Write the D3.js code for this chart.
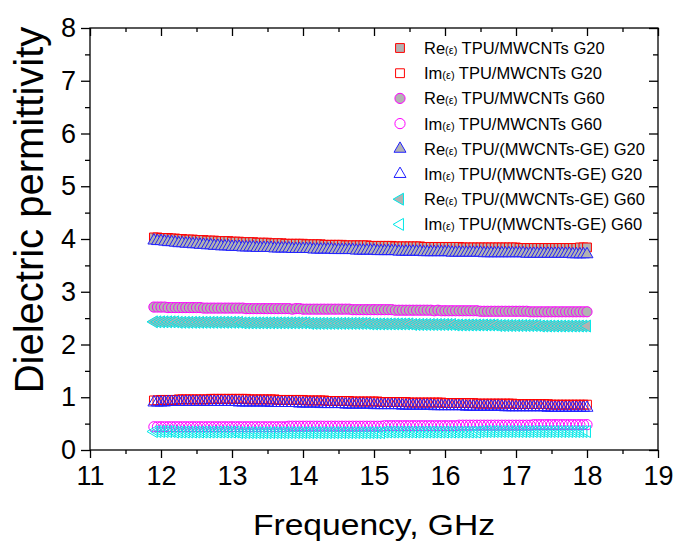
<!DOCTYPE html>
<html>
<head>
<meta charset="utf-8">
<script src="https://cdn.jsdelivr.net/npm/d3@7"></script>
<style>
  body { margin: 0; background: #fff; }
  text { font-family: "Liberation Sans", Arial, sans-serif; fill: #000; }
</style>
</head>
<body>
<div id="chart"></div>
<script>
// frequency sweep (GHz)
const freq = [
  11.90,11.95,12.00,12.05,12.10,12.15,12.20,12.25,12.30,12.35,
  12.40,12.45,12.50,12.55,12.60,12.65,12.70,12.75,12.80,12.85,
  12.90,12.95,13.00,13.05,13.10,13.15,13.20,13.25,13.30,13.35,
  13.40,13.45,13.50,13.55,13.60,13.65,13.70,13.75,13.80,13.85,
  13.90,13.95,14.00,14.05,14.10,14.15,14.20,14.25,14.30,14.35,
  14.40,14.45,14.50,14.55,14.60,14.65,14.70,14.75,14.80,14.85,
  14.90,14.95,15.00,15.05,15.10,15.15,15.20,15.25,15.30,15.35,
  15.40,15.45,15.50,15.55,15.60,15.65,15.70,15.75,15.80,15.85,
  15.90,15.95,16.00,16.05,16.10,16.15,16.20,16.25,16.30,16.35,
  16.40,16.45,16.50,16.55,16.60,16.65,16.70,16.75,16.80,16.85,
  16.90,16.95,17.00,17.05,17.10,17.15,17.20,17.25,17.30,17.35,
  17.40,17.45,17.50,17.55,17.60,17.65,17.70,17.75,17.80,17.85,
  17.90,17.95,18.00
];

// Re(e) TPU/MWCNTs G20
const reMwG20 = [
  4.03,4.03,4.02,4.02,4.02,4.01,4.01,4.00,4.00,3.99,
  3.99,3.99,3.98,3.98,3.98,3.97,3.97,3.97,3.96,3.96,
  3.96,3.96,3.95,3.95,3.95,3.94,3.94,3.94,3.94,3.93,
  3.93,3.93,3.93,3.92,3.92,3.92,3.92,3.91,3.91,3.91,
  3.91,3.91,3.91,3.90,3.90,3.90,3.90,3.90,3.89,3.89,
  3.89,3.89,3.89,3.89,3.88,3.88,3.88,3.88,3.88,3.88,
  3.88,3.87,3.87,3.87,3.87,3.87,3.87,3.87,3.86,3.86,
  3.86,3.86,3.86,3.86,3.86,3.86,3.85,3.85,3.85,3.85,
  3.85,3.85,3.85,3.85,3.85,3.85,3.85,3.84,3.84,3.84,
  3.84,3.84,3.84,3.84,3.84,3.84,3.84,3.84,3.84,3.84,
  3.84,3.84,3.84,3.83,3.83,3.83,3.83,3.83,3.83,3.83,
  3.83,3.83,3.83,3.83,3.83,3.83,3.83,3.83,3.83,3.83,
  3.84,3.84,3.84
];
// Im(e) TPU/MWCNTs G20
const imMwG20 = [
  0.94,0.94,0.95,0.95,0.95,0.95,0.95,0.96,0.96,0.96,
  0.96,0.96,0.96,0.96,0.96,0.96,0.97,0.97,0.97,0.97,
  0.97,0.97,0.97,0.97,0.97,0.97,0.97,0.96,0.96,0.96,
  0.96,0.96,0.96,0.96,0.96,0.95,0.95,0.95,0.95,0.95,
  0.95,0.95,0.95,0.94,0.94,0.94,0.94,0.94,0.94,0.93,
  0.93,0.93,0.93,0.93,0.93,0.93,0.92,0.92,0.92,0.92,
  0.92,0.92,0.92,0.92,0.91,0.91,0.91,0.91,0.91,0.91,
  0.91,0.91,0.90,0.90,0.90,0.90,0.90,0.90,0.90,0.90,
  0.90,0.90,0.89,0.89,0.89,0.89,0.89,0.89,0.89,0.89,
  0.89,0.88,0.88,0.88,0.88,0.88,0.88,0.88,0.88,0.88,
  0.88,0.88,0.87,0.87,0.87,0.87,0.87,0.87,0.87,0.87,
  0.87,0.87,0.86,0.86,0.86,0.86,0.86,0.86,0.86,0.86,
  0.86,0.86,0.86
];
// Re(e) TPU/MWCNTs G60
const reMwG60 = [
  2.71,2.71,2.71,2.71,2.70,2.70,2.70,2.70,2.70,2.70,
  2.70,2.70,2.70,2.70,2.69,2.69,2.69,2.69,2.69,2.69,
  2.69,2.69,2.69,2.69,2.69,2.69,2.68,2.68,2.68,2.68,
  2.68,2.68,2.68,2.68,2.68,2.68,2.68,2.68,2.68,2.67,
  2.68,2.68,2.67,2.67,2.67,2.67,2.67,2.67,2.67,2.67,
  2.67,2.67,2.67,2.67,2.67,2.67,2.66,2.66,2.66,2.66,
  2.66,2.66,2.66,2.66,2.66,2.66,2.66,2.66,2.65,2.65,
  2.65,2.65,2.65,2.65,2.65,2.65,2.65,2.65,2.65,2.64,
  2.65,2.64,2.64,2.64,2.64,2.64,2.64,2.64,2.64,2.64,
  2.64,2.64,2.63,2.63,2.63,2.63,2.63,2.63,2.63,2.63,
  2.63,2.63,2.63,2.63,2.63,2.63,2.62,2.62,2.62,2.62,
  2.62,2.62,2.62,2.62,2.62,2.62,2.62,2.62,2.62,2.62,
  2.62,2.62,2.62
];
// Im(e) TPU/MWCNTs G60
const imMwG60 = [
  0.44,0.44,0.44,0.44,0.44,0.44,0.44,0.44,0.44,0.44,
  0.44,0.44,0.44,0.44,0.44,0.44,0.44,0.44,0.44,0.44,
  0.44,0.44,0.44,0.44,0.44,0.44,0.44,0.44,0.44,0.44,
  0.44,0.44,0.44,0.44,0.44,0.44,0.44,0.44,0.45,0.45,
  0.45,0.45,0.45,0.45,0.45,0.45,0.45,0.45,0.45,0.45,
  0.45,0.45,0.45,0.45,0.45,0.45,0.45,0.45,0.45,0.45,
  0.45,0.45,0.45,0.45,0.45,0.46,0.46,0.46,0.46,0.46,
  0.46,0.46,0.46,0.46,0.46,0.46,0.46,0.46,0.46,0.46,
  0.46,0.46,0.46,0.46,0.46,0.46,0.47,0.47,0.47,0.47,
  0.47,0.47,0.47,0.47,0.47,0.47,0.47,0.47,0.47,0.47,
  0.47,0.47,0.47,0.47,0.47,0.47,0.47,0.48,0.48,0.48,
  0.48,0.48,0.48,0.48,0.48,0.48,0.48,0.48,0.48,0.48,
  0.48,0.48,0.48
];
// Re(e) TPU/(MWCNTs-GE) G20
const reGeG20 = [
  3.97,3.96,3.96,3.95,3.94,3.94,3.93,3.92,3.92,3.91,
  3.91,3.90,3.90,3.89,3.89,3.88,3.88,3.87,3.87,3.86,
  3.86,3.86,3.85,3.85,3.85,3.84,3.84,3.84,3.84,3.83,
  3.83,3.83,3.83,3.83,3.82,3.82,3.82,3.82,3.82,3.81,
  3.81,3.81,3.81,3.81,3.81,3.80,3.80,3.80,3.80,3.80,
  3.80,3.79,3.79,3.79,3.79,3.79,3.79,3.78,3.78,3.78,
  3.78,3.78,3.78,3.77,3.77,3.77,3.77,3.77,3.77,3.76,
  3.76,3.76,3.76,3.76,3.76,3.76,3.75,3.75,3.75,3.75,
  3.75,3.75,3.75,3.75,3.74,3.74,3.74,3.74,3.74,3.74,
  3.74,3.74,3.74,3.73,3.73,3.73,3.73,3.73,3.73,3.73,
  3.73,3.73,3.73,3.73,3.73,3.72,3.72,3.72,3.72,3.72,
  3.72,3.72,3.72,3.72,3.72,3.72,3.72,3.72,3.71,3.71,
  3.71,3.71,3.71
];
// Im(e) TPU/(MWCNTs-GE) G20
const imGeG20 = [
  0.90,0.90,0.90,0.90,0.91,0.91,0.91,0.91,0.91,0.91,
  0.91,0.91,0.91,0.91,0.91,0.91,0.91,0.91,0.91,0.91,
  0.91,0.91,0.91,0.91,0.90,0.90,0.90,0.90,0.90,0.90,
  0.90,0.90,0.90,0.89,0.89,0.89,0.89,0.89,0.89,0.89,
  0.89,0.88,0.88,0.88,0.88,0.88,0.88,0.87,0.87,0.87,
  0.87,0.87,0.87,0.87,0.86,0.86,0.86,0.86,0.86,0.86,
  0.86,0.86,0.85,0.85,0.85,0.85,0.85,0.85,0.85,0.85,
  0.84,0.84,0.84,0.84,0.84,0.84,0.84,0.84,0.84,0.83,
  0.83,0.83,0.83,0.83,0.83,0.83,0.83,0.83,0.82,0.82,
  0.82,0.82,0.82,0.82,0.82,0.82,0.82,0.82,0.82,0.81,
  0.81,0.81,0.81,0.81,0.81,0.81,0.81,0.81,0.81,0.81,
  0.81,0.80,0.80,0.80,0.80,0.80,0.80,0.80,0.80,0.80,
  0.80,0.80,0.80
];
// Re(e) TPU/(MWCNTs-GE) G60
const reGeG60 = [
  2.43,2.43,2.43,2.43,2.43,2.43,2.43,2.42,2.42,2.42,
  2.42,2.42,2.42,2.42,2.42,2.42,2.42,2.42,2.42,2.42,
  2.42,2.42,2.42,2.42,2.42,2.41,2.41,2.41,2.41,2.41,
  2.41,2.41,2.41,2.41,2.41,2.41,2.41,2.41,2.41,2.41,
  2.41,2.41,2.41,2.41,2.40,2.40,2.40,2.40,2.40,2.40,
  2.40,2.40,2.40,2.40,2.40,2.40,2.40,2.40,2.40,2.40,
  2.40,2.39,2.39,2.39,2.39,2.39,2.39,2.39,2.39,2.39,
  2.39,2.39,2.39,2.38,2.38,2.38,2.38,2.38,2.38,2.38,
  2.38,2.38,2.38,2.38,2.38,2.37,2.37,2.37,2.37,2.37,
  2.37,2.37,2.37,2.37,2.37,2.37,2.37,2.36,2.36,2.36,
  2.36,2.36,2.36,2.36,2.36,2.36,2.36,2.36,2.36,2.35,
  2.35,2.35,2.35,2.35,2.35,2.35,2.35,2.35,2.35,2.35,
  2.35,2.35,2.35
];
// Im(e) TPU/(MWCNTs-GE) G60
const imGeG60 = [
  0.35,0.35,0.35,0.35,0.35,0.35,0.34,0.34,0.34,0.34,
  0.34,0.34,0.34,0.34,0.34,0.34,0.34,0.34,0.34,0.34,
  0.34,0.34,0.34,0.34,0.33,0.33,0.33,0.33,0.33,0.33,
  0.33,0.33,0.33,0.33,0.33,0.33,0.33,0.33,0.33,0.33,
  0.33,0.33,0.33,0.33,0.33,0.33,0.33,0.33,0.33,0.33,
  0.33,0.33,0.33,0.33,0.33,0.33,0.33,0.33,0.33,0.33,
  0.33,0.33,0.33,0.33,0.33,0.34,0.34,0.34,0.34,0.34,
  0.34,0.34,0.34,0.34,0.34,0.34,0.34,0.34,0.34,0.34,
  0.34,0.34,0.34,0.34,0.34,0.34,0.34,0.34,0.34,0.34,
  0.34,0.34,0.35,0.35,0.35,0.35,0.35,0.35,0.35,0.35,
  0.35,0.35,0.35,0.35,0.35,0.35,0.35,0.35,0.35,0.35,
  0.35,0.35,0.35,0.35,0.35,0.35,0.35,0.35,0.35,0.35,
  0.35,0.35,0.35
];

const seriesValues = [reMwG20, imMwG20, reMwG60, imMwG60, reGeG20, imGeG20, reGeG60, imGeG60];
const labelPrefix = ['Re', 'Im', 'Re', 'Im', 'Re', 'Im', 'Re', 'Im'];
const labelNames = [
  ' TPU/MWCNTs G20', ' TPU/MWCNTs G20', ' TPU/MWCNTs G60', ' TPU/MWCNTs G60',
  ' TPU/(MWCNTs-GE) G20', ' TPU/(MWCNTs-GE) G20', ' TPU/(MWCNTs-GE) G60', ' TPU/(MWCNTs-GE) G60'
];
const xTicks = [11, 12, 13, 14, 15, 16, 17, 18, 19];
const yTicks = [0, 1, 2, 3, 4, 5, 6, 7, 8];

// marker styles per series
const shapes = ['square', 'square', 'circle', 'circle', 'up', 'up', 'left', 'left'];
const edge = ['#ff0000', '#ff0000', '#ff00ff', '#ff00ff', '#2020ff', '#2020ff', '#00e8e8', '#00e8e8'];
const filled = [true, false, true, false, true, false, true, false];
const grayFill = '#b2b2b2';

const width = 675, height = 543;
const margin = { top: 28, right: 17, bottom: 93, left: 90 };
const plotW = width - margin.left - margin.right;
const plotH = height - margin.top - margin.bottom;

const x = d3.scaleLinear().domain([11, 19]).range([0, plotW]);
const y = d3.scaleLinear().domain([0, 8]).range([plotH, 0]);

const svg = d3.select('#chart').append('svg')
  .attr('width', width)
  .attr('height', height);

svg.append('rect').attr('width', width).attr('height', height).attr('fill', '#fff');

const g = svg.append('g').attr('transform', `translate(${margin.left},${margin.top})`);

// symbol path for a shape
function symbolPath(shape) {
  if (shape === 'square') return d3.symbol(d3.symbolSquare, 78)();
  if (shape === 'circle') return d3.symbol(d3.symbolCircle, 82)();
  return d3.symbol(d3.symbolTriangle, 62)();
}
function symbolRotate(shape) {
  return shape === 'left' ? ' rotate(-90)' : '';
}

// draw markers
seriesValues.forEach((vals, i) => {
  const pts = freq.map((f, j) => ({ f, v: vals[j] }));
  g.append('g')
    .selectAll('path')
    .data(pts)
    .join('path')
    .attr('d', symbolPath(shapes[i]))
    .attr('transform', d => `translate(${x(d.f)},${y(d.v)})${symbolRotate(shapes[i])}`)
    .attr('fill', filled[i] ? grayFill : 'none')
    .attr('stroke', edge[i])
    .attr('stroke-width', 1);
});

// axes
const minorX = d3.range(11.5, 19, 1);
const minorY = d3.range(0.5, 8, 1);

function styleAxis(sel) {
  sel.select('.domain').remove();
  sel.selectAll('.tick line').attr('stroke', '#000').attr('stroke-width', 1.3);
}

g.append('g').attr('transform', `translate(0,${plotH})`)
  .call(d3.axisBottom(x).tickValues(xTicks).tickSize(8).tickPadding(8).tickFormat(d3.format('d')))
  .call(styleAxis)
  .selectAll('text').attr('font-size', 27).attr('font-family', '"Liberation Sans", Arial, sans-serif');
g.append('g').attr('transform', `translate(0,${plotH})`)
  .call(d3.axisBottom(x).tickValues(minorX).tickSize(4).tickFormat(''))
  .call(styleAxis);
g.append('g')
  .call(d3.axisTop(x).tickValues(xTicks).tickSize(-8).tickFormat(''))
  .call(styleAxis);
g.append('g')
  .call(d3.axisTop(x).tickValues(minorX).tickSize(-4).tickFormat(''))
  .call(styleAxis);

g.append('g')
  .call(d3.axisLeft(y).tickValues(yTicks).tickSize(9).tickPadding(5).tickFormat(d3.format('d')))
  .call(styleAxis)
  .selectAll('text').attr('font-size', 27).attr('font-family', '"Liberation Sans", Arial, sans-serif');
g.append('g')
  .call(d3.axisLeft(y).tickValues(minorY).tickSize(5).tickFormat(''))
  .call(styleAxis);
g.append('g').attr('transform', `translate(${plotW},0)`)
  .call(d3.axisRight(y).tickValues(yTicks).tickSize(-9).tickFormat(''))
  .call(styleAxis);
g.append('g').attr('transform', `translate(${plotW},0)`)
  .call(d3.axisRight(y).tickValues(minorY).tickSize(-5).tickFormat(''))
  .call(styleAxis);

// frame
g.append('rect')
  .attr('width', plotW).attr('height', plotH)
  .attr('fill', 'none').attr('stroke', '#000').attr('stroke-width', 1.3);

// axis titles
g.append('text')
  .attr('x', plotW / 2)
  .attr('y', plotH + 85)
  .attr('text-anchor', 'middle')
  .attr('font-size', 29)
  .attr('textLength', 242)
  .attr('lengthAdjust', 'spacingAndGlyphs')
  .text('Frequency, GHz');

svg.append('text')
  .attr('transform', 'translate(43,210) rotate(-90)')
  .attr('text-anchor', 'middle')
  .attr('font-size', 40)
  .text('Dielectric permittivity');

// legend
const legend = svg.append('g').attr('transform', 'translate(400,48)');
const rowH = 25.2;
labelPrefix.forEach((p, i) => {
  const row = legend.append('g').attr('transform', `translate(0,${i * rowH})`);
  row.append('path')
    .attr('d', symbolPath(shapes[i]))
    .attr('transform', `translate(0,0)${symbolRotate(shapes[i])}`)
    .attr('fill', filled[i] ? grayFill : 'none')
    .attr('stroke', edge[i])
    .attr('stroke-width', 1);
  const t = row.append('text')
    .attr('x', 24)
    .attr('y', 6)
    .attr('font-size', 16.5);
  t.append('tspan').text(p);
  t.append('tspan').attr('font-size', 11).text('(ε)');
  t.append('tspan').text(labelNames[i]);
});
</script>
</body>
</html>
